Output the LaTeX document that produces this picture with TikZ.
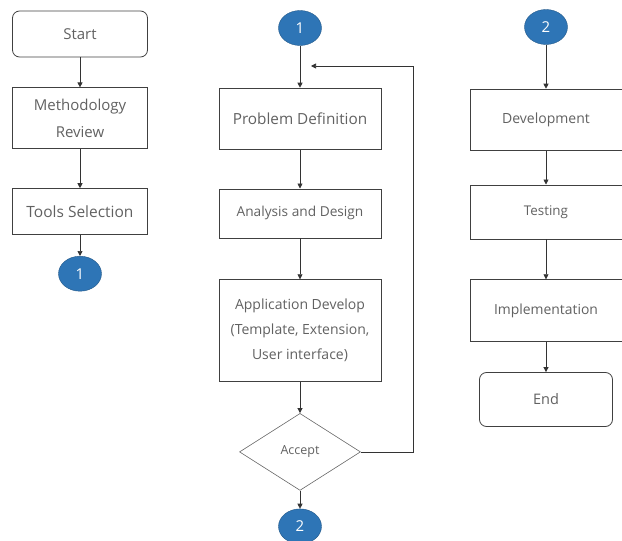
\documentclass[tikz,border=0pt]{standalone}
\usepackage{fontspec}
\setmainfont{Open Sans}
\usepackage{xcolor}
\usetikzlibrary{shapes.geometric, positioning, arrows.meta, calc}
\definecolor{conblue}{HTML}{2E75B6}

\begin{document}
\begin{tikzpicture}[
	  x=1pt, y=-1pt,
	  font=\fontsize{14}{25}\selectfont,
	  box/.style={draw=black!75, line width=0.8pt, align=center, text=black!62, inner sep=2pt},
	  leftbox/.style={box, minimum width=135pt},
	  midbox/.style={box, minimum width=162pt},
	  rightbox/.style={box, minimum width=152pt},
	  termbox/.style={rounded corners=7pt},
	  decbox/.style={diamond, draw=black!60, line width=0.6pt, text=black!62, minimum width=121pt, minimum height=77pt, inner sep=0pt, font=\fontsize{12.5}{14}\selectfont},
	  conn/.style={ellipse, draw=conblue!75!black, fill=conblue, text=white, minimum width=43pt, minimum height=35pt, inner sep=0pt, font=\fontsize{15}{15}\selectfont},
	  arr/.style={-{Triangle[length=5pt,width=5pt]}, line width=0.7pt, draw=black!80}
	]
	\useasboundingbox (0,0) rectangle (622,541);

	\node[leftbox, termbox, minimum height=46pt, font=\fontsize{15}{18}\selectfont] (start) at (80,34) {Start};
	\node[leftbox, minimum height=61pt, below=30pt of start, font=\fontsize{15}{27}\selectfont] (method) {Methodology\\Review};
	\node[leftbox, minimum height=46pt, below=39pt of method, font=\fontsize{15.5}{18}\selectfont] (tools) {Tools Selection};
	\node[conn, below=21pt of tools] (onea) {1};

	\draw[arr] (start) -- (method);
	\draw[arr] (method) -- (tools);
	\draw[arr] (tools) -- (onea);

	\node[conn] (oneb) at (300,28) {1};
	\node[midbox, minimum height=61pt, below=42pt of oneb, font=\fontsize{15.3}{18}\selectfont] (probdef) {Problem Definition};
	\node[midbox, minimum height=49pt, below=39pt of probdef, font=\fontsize{13.7}{16}\selectfont] (anadesign) {Analysis and Design};
	\node[midbox, minimum height=102pt, below=41pt of anadesign] (appdev) {Application Develop\\(Template, Extension,\\User interface)};
	\node[decbox, below=31pt of appdev] (accept) {Accept};
	\node[conn, below=18pt of accept] (twoa) {2};
	\coordinate (loopin) at (311,66);

	\draw[arr] (oneb) -- (probdef);
	\draw[arr] (probdef) -- (anadesign);
	\draw[arr] (anadesign) -- (appdev);
	\draw[arr] (appdev) -- (accept);
	\draw[arr] (accept) -- (twoa);
	\draw[arr] (accept.east) -- ++(53,0) |- (loopin);

	\node[conn] (twob) at (546,27) {2};
	\node[rightbox, minimum height=61pt, below=44pt of twob, font=\fontsize{14}{16}\selectfont] (devel) {Development};
	\node[rightbox, minimum height=54pt, below=34pt of devel, font=\fontsize{13.4}{16}\selectfont] (testing) {Testing};
	\node[rightbox, minimum height=62pt, below=40pt of testing, font=\fontsize{13.9}{16}\selectfont] (impl) {Implementation};
	\node[box, termbox, minimum width=133pt, minimum height=54pt, below=30pt of impl, font=\fontsize{14.5}{17}\selectfont] (finish) {End};

	\draw[arr] (twob) -- (devel);
	\draw[arr] (devel) -- (testing);
	\draw[arr] (testing) -- (impl);
	\draw[arr] (impl) -- (finish);

	\end{tikzpicture}
\end{document}
